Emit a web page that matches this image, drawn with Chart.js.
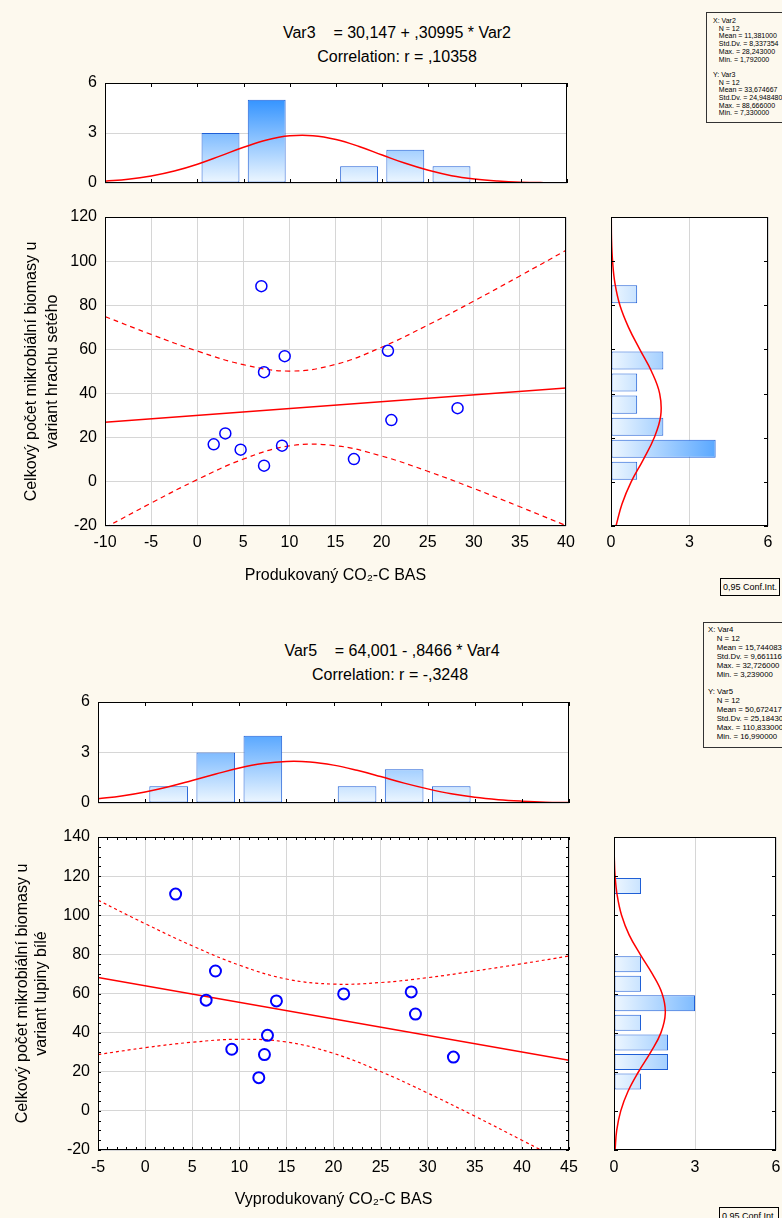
<!DOCTYPE html>
<html>
<head>
<meta charset="utf-8">
<title>Var2 / Var3, Var4 / Var5</title>
<script src="https://cdn.jsdelivr.net/npm/chart.js@4.4.1/dist/chart.umd.min.js"></script>
<style>
  html, body { margin: 0; padding: 0; }
  body {
    position: relative; width: 782px; height: 1218px; overflow: hidden;
    background: #fdf9ee; color: #000;
    font-family: "Liberation Sans", Arial, sans-serif;
  }
  canvas { position: absolute; }
  .title { position: absolute; width: 400px; text-align: center; font-size: 16px; line-height: 20px; white-space: pre; }
  .stats { position: absolute; width: 100px; border: 1px solid #333; white-space: pre; background: #fdf9ee; }
  .ci { position: absolute; border: 1px solid #000; font-size: 9px; line-height: 16px; padding: 0 2px; white-space: nowrap; background: #fdf9ee; }
</style>
</head>
<body>
<div class="title" style="left:197px; top:23px;">Var3    = 30,147 + ,30995 * Var2</div>
<div class="title" style="left:197px; top:47px;">Correlation: r = ,10358</div>
<div class="stats" style="left:706px; top:12px; font-size:7px; line-height:7.7px; padding:4px 0 5px 6px;">X: Var2
   N = 12
   Mean = 11,381000
   Std.Dv. = 8,337354
   Max. = 28,243000
   Min. = 1,792000

Y: Var3
   N = 12
   Mean = 33,674667
   Std.Dv. = 24,948480
   Max. = 88,666000
   Min. = 7,330000</div>
<div class="ci" style="left:720px; top:578px;">0,95 Conf.Int.</div>

<div class="title" style="left:192px; top:641px;">Var5    = 64,001 - ,8466 * Var4</div>
<div class="title" style="left:190px; top:665px;">Correlation: r = -,3248</div>
<div class="stats" style="left:703px; top:622px; font-size:7.8px; line-height:8.9px; padding:3px 0 5px 4px;">X: Var4
    N = 12
    Mean = 15,744083
    Std.Dv. = 9,661116
    Max. = 32,726000
    Min. = 3,239000

Y: Var5
    N = 12
    Mean = 50,672417
    Std.Dv. = 25,18430
    Max. = 110,833000
    Min. = 16,990000</div>
<div class="ci" style="left:719px; top:1207px;">0,95 Conf.Int.</div>

<canvas id="top1" width="600" height="125" style="left:0; top:70px;"></canvas>
<canvas id="sc1" width="600" height="400" style="left:0; top:200px;"></canvas>
<canvas id="side1" width="182" height="400" style="left:600px; top:200px;"></canvas>
<canvas id="top2" width="600" height="125" style="left:0; top:690px;"></canvas>
<canvas id="sc2" width="600" height="398" style="left:0; top:820px;"></canvas>
<canvas id="side2" width="182" height="398" style="left:600px; top:820px;"></canvas>

<script>
// ---- graf 1: hrách setý (Var2 = CO2-C BAS, Var3 = mikrobiální biomasa) ----
const var2 = [1.79, 3.05, 4.71, 6.96, 7.25, 7.25, 9.20, 9.49, 17.00, 20.69, 21.06, 28.24];
const var3 = [17.0, 21.95, 14.6, 88.67, 49.7, 7.33, 16.4, 56.95, 10.3, 59.4, 28.0, 33.4];

const fit1X = [-10, 40];
const fit1Y = [27.05, 42.55];
const band1X = [-10, -5, 0, 5, 10, 15, 20, 25, 30, 35, 40];
const band1Hi = [74.9, 66.8, 59.3, 53.1, 50.2, 53.2, 61.0, 71.0, 81.9, 93.3, 104.9];
const band1Lo = [-20.8, -9.6, 1.0, 10.3, 16.3, 16.4, 11.7, 4.8, -3.0, -11.3, -19.8];

// histogram nahoře (třídy po 5)
const hist1XBins = [2.5, 7.5, 17.5, 22.5, 27.5];
const hist1XCounts = [3, 5, 1, 2, 1];
const norm1XAt = [-10, -7.5, -5, -2.5, 0, 2.5, 5, 7.5, 10, 12.5, 15, 17.5, 20, 22.5, 25, 27.5, 30, 32.5, 35, 37.5, 40];
const norm1X = [0.11, 0.22, 0.42, 0.72, 1.13, 1.63, 2.14, 2.58, 2.83, 2.84, 2.61, 2.19, 1.68, 1.18, 0.76, 0.44, 0.24, 0.12, 0.05, 0.02, 0.01];

// histogram vpravo (třídy po 10)
const hist1YBins = [5, 15, 25, 35, 45, 55, 85];
const hist1YCounts = [1, 4, 2, 1, 1, 2, 1];
const norm1YAt = [-20, -10, 0, 10, 20, 30, 40, 50, 60, 70, 80, 90, 100, 110, 120];
const norm1Y = [0.19, 0.42, 0.77, 1.23, 1.65, 1.90, 1.86, 1.55, 1.10, 0.67, 0.34, 0.15, 0.06, 0.02, 0.01];

// ---- graf 2: lupina bílá (Var4, Var5) ----
const var4 = [3.24, 6.48, 7.47, 9.20, 12.07, 12.67, 12.99, 13.94, 21.08, 28.25, 28.70, 32.73];
const var5 = [110.83, 56.6, 71.5, 31.5, 16.99, 28.8, 38.6, 56.2, 59.8, 60.8, 49.5, 27.5];

const fit2X = [-5, 45];
const fit2Y = [68.23, 25.9];
const band2X = [-5, 0, 5, 10, 15, 20, 25, 30, 35, 40, 45];
const band2Hi = [107.7, 95.7, 84.4, 74.5, 67.4, 64.8, 65.6, 68.1, 71.5, 75.2, 79.2];
const band2Lo = [28.8, 32.3, 35.1, 36.6, 35.2, 29.4, 20.1, 9.1, -2.7, -15.0, -27.4];

const hist2XBins = [2.5, 7.5, 12.5, 22.5, 27.5, 32.5];
const hist2XCounts = [1, 3, 4, 1, 2, 1];
const norm2XAt = [-5, -2.5, 0, 2.5, 5, 7.5, 10, 12.5, 15, 17.5, 20, 22.5, 25, 27.5, 30, 32.5, 35, 37.5, 40, 42.5, 45];
const norm2X = [0.25, 0.42, 0.66, 0.97, 1.34, 1.72, 2.08, 2.34, 2.47, 2.44, 2.25, 1.94, 1.57, 1.18, 0.84, 0.55, 0.34, 0.20, 0.11, 0.05, 0.03];

const hist2YBins = [15, 25, 35, 45, 55, 65, 75, 115];
const hist2YCounts = [1, 2, 2, 1, 3, 1, 1, 1];
const norm2YAt = [-20, -10, 0, 10, 20, 30, 40, 50, 60, 70, 80, 90, 100, 110, 120, 130, 140];
const norm2Y = [0.04, 0.10, 0.25, 0.52, 0.91, 1.36, 1.74, 1.90, 1.78, 1.42, 0.97, 0.56, 0.28, 0.12, 0.04, 0.01, 0.00];

const FONT = '"Liberation Sans", Arial, sans-serif';
const GRID = '#d6d6d6';
Chart.defaults.font.family = FONT;
Chart.defaults.color = '#000';

const pts = (xs, ys) => xs.map((x, i) => ({ x: x, y: ys[i] }));

// white plot area, black frame, short inner ticks
const framePlugin = {
    id: 'frame',
    beforeDraw(chart) {
        const { ctx, chartArea: a } = chart;
        ctx.save();
        ctx.fillStyle = '#ffffff';
        ctx.fillRect(a.left, a.top, a.right - a.left, a.bottom - a.top);
        ctx.restore();
    },
    afterDraw(chart, args, opts) {
        const { ctx, chartArea: a, scales } = chart;
        const len = opts.len || 4;
        ctx.save();
        ctx.strokeStyle = '#000';
        ctx.lineWidth = 1;
        ctx.beginPath();
        if (opts.xStep) {
            const s = scales.x;
            for (let v = s.min; v <= s.max + 1e-9; v += opts.xStep) {
                const p = Math.round(s.getPixelForValue(v)) + 0.5;
                ctx.moveTo(p, a.top); ctx.lineTo(p, a.top + len);
                ctx.moveTo(p, a.bottom); ctx.lineTo(p, a.bottom - len);
            }
        }
        if (opts.yStep) {
            const s = scales.y;
            for (let v = s.min; v <= s.max + 1e-9; v += opts.yStep) {
                const p = Math.round(s.getPixelForValue(v)) + 0.5;
                ctx.moveTo(a.left, p); ctx.lineTo(a.left + len, p);
                ctx.moveTo(a.right, p); ctx.lineTo(a.right - len, p);
            }
        }
        ctx.stroke();
        ctx.lineWidth = opts.width || 1;
        ctx.strokeRect(a.left + 0.5, a.top + 0.5, a.right - a.left - 1, a.bottom - a.top - 1);
        ctx.restore();
    }
};
Chart.register(framePlugin);

function barFill(horizontal) {
    return (c) => {
        const a = c.chart.chartArea;
        if (!a) return '#8cc4ff';
        const g = horizontal
            ? c.chart.ctx.createLinearGradient(a.left, 0, a.right, 0)
            : c.chart.ctx.createLinearGradient(0, a.bottom, 0, a.top);
        g.addColorStop(0, '#eef7ff');
        g.addColorStop(1, '#0f80ff');
        return g;
    };
}

function fixBox(w, h) {
    return (s) => {
        if (w !== null) s.width = w;
        if (h !== null) s.height = h;
        s.paddingLeft = 0; s.paddingRight = 0; s.paddingTop = 0; s.paddingBottom = 0;
    };
}

const noPlugins = { legend: { display: false }, tooltip: { enabled: false } };

function topHist(id, c) {
    new Chart(document.getElementById(id), {
        type: 'bar',
        data: {
            datasets: [
                {
                    type: 'line', data: pts(c.curveAt, c.curve), borderColor: '#ff0000', borderWidth: 1.5,
                    pointRadius: 0, tension: 0.4, order: 0
                },
                {
                    type: 'bar', data: pts(c.bins, c.counts), backgroundColor: barFill(false),
                    borderColor: '#1f5fd6', borderWidth: 1, borderSkipped: false,
                    barPercentage: 0.82, categoryPercentage: 1, order: 1
                }
            ]
        },
        options: {
            responsive: false, animation: false,
            layout: { padding: { top: c.padTop, right: c.padRight, left: 0, bottom: 0 } },
            plugins: Object.assign({ frame: { xStep: 5, len: 4 } }, noPlugins),
            scales: {
                x: {
                    type: 'linear', min: c.xMin, max: c.xMax, offset: false,
                    grid: { display: false, offset: false }, border: { display: false },
                    ticks: { display: false, stepSize: 5 },
                    afterFit: fixBox(null, 12)
                },
                y: {
                    type: 'linear', min: 0, max: 6,
                    grid: { color: GRID, drawTicks: false }, border: { display: false },
                    ticks: { stepSize: 3, padding: 8, font: { size: 16 } },
                    afterFit: fixBox(c.yW, null)
                }
            }
        }
    });
}

function sideHist(id, c) {
    new Chart(document.getElementById(id), {
        type: 'bar',
        data: {
            datasets: [
                {
                    type: 'line', data: pts(c.curve, c.curveAt), borderColor: '#ff0000', borderWidth: 1.5,
                    pointRadius: 0, tension: 0.4, order: 0
                },
                {
                    type: 'bar', data: pts(c.counts, c.bins), backgroundColor: barFill(true),
                    borderColor: '#1f5fd6', borderWidth: 1, borderSkipped: false,
                    barPercentage: 0.82, categoryPercentage: 1, order: 1
                }
            ]
        },
        options: {
            indexAxis: 'y',
            responsive: false, animation: false,
            layout: { padding: { top: 17, right: c.padRight, left: 0, bottom: 0 } },
            plugins: Object.assign({ frame: { yStep: 20, len: 4 } }, noPlugins),
            scales: {
                x: {
                    type: 'linear', min: 0, max: 6,
                    grid: { color: GRID, drawTicks: false }, border: { display: false },
                    ticks: { stepSize: 3, padding: c.labPad, maxRotation: 0, font: { size: 16 } },
                    afterFit: fixBox(null, c.xH)
                },
                y: {
                    type: 'linear', min: c.yMin, max: c.yMax, offset: false,
                    grid: { display: false, offset: false }, border: { display: false },
                    ticks: { display: false, stepSize: 20 },
                    afterFit: fixBox(c.yW, null)
                }
            }
        }
    });
}

function scatter(id, c) {
    const lineDs = (xs, ys, dash) => ({
        data: pts(xs, ys), showLine: true, pointRadius: 0, borderColor: '#ff0000',
        borderWidth: dash ? 1.2 : 1.5, borderDash: dash || [], tension: dash ? 0.4 : 0, order: 1
    });
    new Chart(document.getElementById(id), {
        type: 'scatter',
        data: {
            datasets: [
                {
                    data: pts(c.px, c.py), pointRadius: c.r, pointBorderWidth: c.pw,
                    pointBorderColor: '#0000ff', pointBackgroundColor: 'rgba(0,0,0,0)', order: 0
                },
                lineDs(c.fitX, c.fitY, null),
                lineDs(c.bandX, c.bandHi, c.dash),
                lineDs(c.bandX, c.bandLo, c.dash)
            ]
        },
        options: {
            responsive: false, animation: false,
            layout: { padding: { top: 17, right: c.padRight, left: 0, bottom: 0 } },
            plugins: Object.assign({ frame: c.frame }, noPlugins),
            scales: {
                x: {
                    type: 'linear', min: c.xMin, max: c.xMax,
                    grid: { color: GRID, drawTicks: false }, border: { display: false },
                    ticks: { stepSize: 5, padding: c.xLabPad, maxRotation: 0, autoSkip: false, font: { size: 16 } },
                    title: {
                        display: true, text: c.xTitle, font: { size: 16 },
                        padding: { top: 0, bottom: c.xTitlePad }
                    },
                    afterFit: fixBox(null, c.xH)
                },
                y: {
                    type: 'linear', min: c.yMin, max: c.yMax,
                    grid: { color: GRID, drawTicks: false }, border: { display: false },
                    ticks: { stepSize: 20, padding: 8, autoSkip: false, font: { size: 16 } },
                    title: {
                        display: true, text: c.yTitle, font: { size: 16, lineHeight: c.yTitleLH },
                        padding: { top: c.yTitlePad, bottom: 0 }
                    },
                    afterFit: fixBox(c.yW, null)
                }
            }
        }
    });
}

// ---- graf 1 ----
topHist('top1', {
    bins: hist1XBins, counts: hist1XCounts, curveAt: norm1XAt, curve: norm1X,
    xMin: -10, xMax: 40, padTop: 13, padRight: 33, yW: 105
});
scatter('sc1', {
    px: var2, py: var3, r: 5.5, pw: 1.5,
    fitX: fit1X, fitY: fit1Y, bandX: band1X, bandHi: band1Hi, bandLo: band1Lo, dash: [5, 4],
    xMin: -10, xMax: 40, yMin: -20, yMax: 120,
    padRight: 34, yW: 105, xH: 74, xLabPad: 7, xTitlePad: 15,
    xTitle: 'Produkovaný CO₂-C BAS',
    yTitle: ['Celkový počet mikrobiální biomasy u', 'variant hrachu setého'], yTitleLH: 1.3, yTitlePad: 21,
    frame: {}
});
sideHist('side1', {
    bins: hist1YBins, counts: hist1YCounts, curveAt: norm1YAt, curve: norm1Y,
    yMin: -20, yMax: 120, padRight: 14, yW: 11, xH: 74, labPad: 7
});

// ---- graf 2 ----
topHist('top2', {
    bins: hist2XBins, counts: hist2XCounts, curveAt: norm2XAt, curve: norm2X,
    xMin: -5, xMax: 45, padTop: 12, padRight: 31, yW: 98
});
scatter('sc2', {
    px: var4, py: var5, r: 5.5, pw: 2,
    fitX: fit2X, fitY: fit2Y, bandX: band2X, bandHi: band2Hi, bandLo: band2Lo, dash: [3, 3],
    xMin: -5, xMax: 45, yMin: -20, yMax: 140,
    padRight: 31, yW: 98, xH: 68, xLabPad: 8, xTitlePad: 9,
    xTitle: 'Vyprodukovaný CO₂-C BAS',
    yTitle: ['Celkový počet mikrobiální biomasy u', 'variant lupiny bílé'], yTitleLH: 1.2, yTitlePad: 13,
    frame: { xStep: 1, yStep: 5, len: 3 }
});
sideHist('side2', {
    bins: hist2YBins, counts: hist2YCounts, curveAt: norm2YAt, curve: norm2Y,
    yMin: -20, yMax: 140, padRight: 6, yW: 14, xH: 68, labPad: 8
});
</script>
</body>
</html>
